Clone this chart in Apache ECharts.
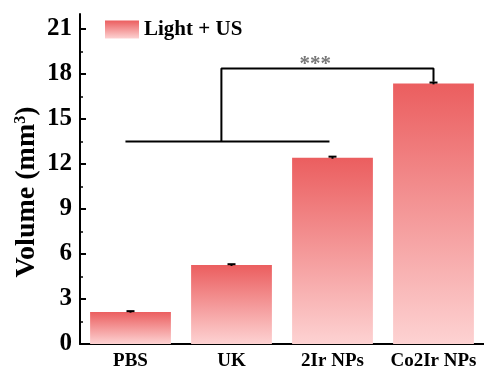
<!DOCTYPE html>
<html>
<head>
<meta charset="utf-8">
<script src="https://cdn.jsdelivr.net/npm/echarts@6/dist/echarts.min.js"></script>
<style>
  html, body { margin: 0; padding: 0; background: #fff; }
  #chart { width: 484px; height: 372px; }
</style>
</head>
<body>
<div id="chart"></div>
<script>
// Tumour volume per treatment group (Light + US)
const groups = ['PBS', 'UK', '2Ir NPs', 'Co2Ir NPs'];
const volumes = [2.14, 5.26, 12.42, 17.37];
const errors = [0.05, 0.06, 0.07, 0.06];
const majorTicks = [0, 3, 6, 9, 12, 15, 18, 21];
const minorTicks = [1.5, 4.5, 7.5, 10.5, 13.5, 16.5, 19.5];

// Significance bracket, x in category-index units
const bracketLow = [[-0.05, 13.5], [1.97, 13.5]];
const bracketHigh = [[0.9, 13.5], [0.9, 18.37], [3, 18.37], [3, 17.48]];
const starMark = [[1.83, 18.37]];

const serif = '"Liberation Serif", "Times New Roman", serif';
const barFill = new echarts.graphic.LinearGradient(0, 0, 0, 1, [
  { offset: 0, color: '#EB5E5F' },
  { offset: 1, color: '#FDD2D2' }
]);

const chart = echarts.init(document.getElementById('chart'), null, { renderer: 'canvas' });

chart.setOption({
  animation: false,
  backgroundColor: '#fff',
  grid: { left: 80, right: -3, top: 14, bottom: 28 },
  legend: {
    left: 100, top: 14,
    itemWidth: 34, itemHeight: 18,
    icon: 'rect',
    textStyle: { fontFamily: serif, fontWeight: 'bold', fontSize: 21, color: '#000' },
    data: ['Light + US']
  },
  xAxis: [{
    type: 'category',
    data: groups,
    axisLine: { onZero: false, lineStyle: { color: '#000', width: 2 } },
    axisTick: { show: false },
    axisLabel: { interval: 0, fontFamily: serif, fontWeight: 'bold', fontSize: 19, color: '#000', margin: 8 }
  }, {
    type: 'value', min: -0.5, max: 3.5, show: false
  }],
  yAxis: [{
    type: 'value', min: 0, max: 22, interval: 3,
    position: 'left',
    name: 'Volume (mm{sup|3})',
    nameLocation: 'middle',
    nameGap: 39,
    nameMoveOverlap: false,
    nameTextStyle: {
      fontFamily: serif, fontWeight: 'bold', fontSize: 28, color: '#000',
      padding: [0, 26, 0, 0],
      rich: { sup: { fontFamily: serif, fontWeight: 'bold', fontSize: 16, color: '#000', verticalAlign: 'top', padding: [0, 0, 12, 0] } }
    },
    splitLine: { show: false },
    axisLine: { show: true, onZero: false, lineStyle: { color: '#000', width: 2 } },
    axisTick: { show: true, inside: true, length: 6, lineStyle: { width: 2, color: '#000' }, customValues: majorTicks },
    axisLabel: { fontFamily: serif, fontWeight: 'bold', fontSize: 25, color: '#000', margin: 8, customValues: majorTicks }
  }, {
    type: 'value', min: 0, max: 22,
    position: 'left', offset: 0,
    splitLine: { show: false },
    axisLine: { show: false, onZero: false },
    axisLabel: { show: false, customValues: [] },
    axisTick: { show: true, inside: true, length: 3, lineStyle: { width: 1.5, color: '#000' }, customValues: minorTicks }
  }],
  series: [{
    name: 'Light + US',
    type: 'bar',
    data: volumes,
    barWidth: '80%',
    itemStyle: { color: barFill },
    z: 2
  }, {
    type: 'custom',
    data: volumes.map((v, i) => [i, v, errors[i]]),
    z: 3,
    renderItem: function (params, api) {
      const i = api.value(0), v = api.value(1), e = api.value(2);
      const top = api.coord([i, v + e]);
      const bot = api.coord([i, v - e]);
      const hw = 4;
      return {
        type: 'group',
        children: [
          { type: 'line', shape: { x1: top[0], y1: top[1], x2: bot[0], y2: bot[1] }, style: { stroke: '#000', lineWidth: 2 } },
          { type: 'line', shape: { x1: top[0] - hw, y1: top[1], x2: top[0] + hw, y2: top[1] }, style: { stroke: '#000', lineWidth: 2 } }
        ]
      };
    }
  }, {
    type: 'line', xAxisIndex: 1, data: bracketLow,
    symbol: 'none', lineStyle: { color: '#000', width: 2 }, z: 4
  }, {
    type: 'line', xAxisIndex: 1, data: bracketHigh,
    symbol: 'none', lineStyle: { color: '#000', width: 2 }, z: 4
  }, {
    type: 'scatter', xAxisIndex: 1, data: starMark,
    symbolSize: 0,
    label: { show: true, position: 'top', distance: -7, formatter: '***', fontFamily: serif, fontWeight: 'bold', fontSize: 21, color: '#555' },
    z: 4
  }]
});
</script>
</body>
</html>
